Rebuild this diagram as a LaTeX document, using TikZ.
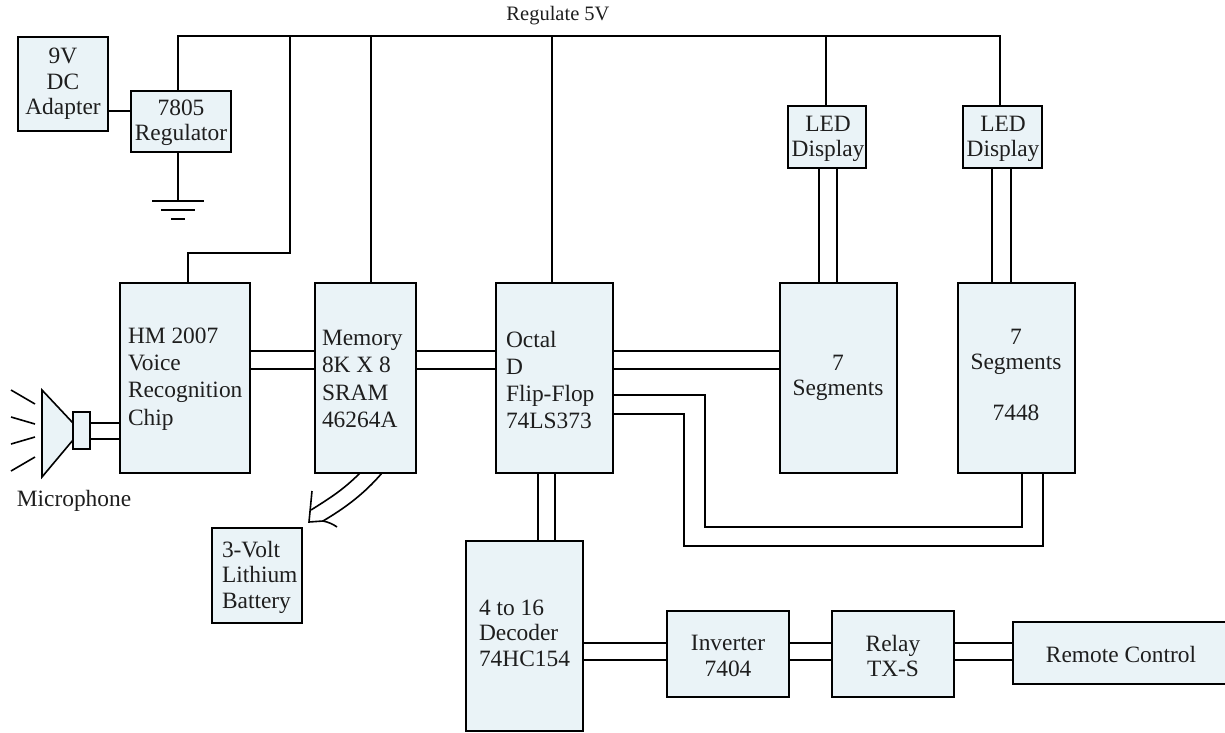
\documentclass[tikz,border=0pt]{standalone}
\usepackage{fontspec}
\setmainfont{Liberation Serif}
\begin{document}
\begin{tikzpicture}[x=1pt,y=-1pt,line join=miter,
  every node/.style={inner sep=0pt,outer sep=0pt},
  blockbox/.style={draw=black,fill=boxfill,line width=1.6pt},
  wire/.style={draw=black,line width=1.6pt},
  txt/.style={text=txtcol,font=\fontsize{23.4}{25.4}\selectfont,align=center},
  txtw/.style={text=txtcol,font=\fontsize{23.4}{27.2}\selectfont,align=left}]
\definecolor{boxfill}{HTML}{EAF3F7}
\definecolor{txtcol}{HTML}{1E1E1E}
\useasboundingbox (0,0) rectangle (1225,732);
\newcommand{\bx}[5]{\path[blockbox] (#2,#3) rectangle (#4,#5);
  \coordinate (#1nw) at (#2,#3); \coordinate (#1se) at (#4,#5);
  \node[minimum width=#4pt-#2pt,minimum height=#5pt-#3pt] (#1) at ({(#2+#4)/2},{(#3+#5)/2}) {};}
% blocks
\bx{adapter}{18}{37}{108}{131}
\bx{reg}{131}{91}{231}{152}
\bx{hm}{120}{283}{250}{473}
\bx{mem}{315}{283}{416}{473}
\bx{oct}{496}{283}{613}{473}
\bx{segA}{780}{283}{897}{473}
\bx{segB}{958}{283}{1075}{473}
\bx{ledA}{788}{106}{866}{168}
\bx{ledB}{963}{106}{1042}{168}
\bx{bat}{212}{528}{302}{623}
\bx{dec}{466}{541}{583}{731}
\bx{inv}{667}{611}{789}{697}
\bx{rel}{832}{611}{954}{697}
\bx{rem}{1013}{622}{1226}{684}
% power rail
\coordinate (railL) at (178,36);
\coordinate (railR) at (1000,36);
\draw[wire] (reg.north -| railL) -- (railL) -- (railR) -- (railR |- ledB.north);
\draw[wire] (826,36) -- (826,106);
\draw[wire] (290,36) -- (290,253) -- (188,253) -- (188,283);
\draw[wire] (371,36) -- (371,283);
\draw[wire] (552,36) -- (552,283);
% adapter, ground
\draw[wire] (adapter.east |- 0,111) -- (reg.west |- 0,111);
\coordinate (gnd) at (178,201);
\draw[wire] (reg.south -| gnd) -- (gnd);
\draw[wire] (152,201) -- (204,201);
\draw[wire] (161,210) -- (195,210);
\draw[wire] (171,219) -- (185,219);
% double buses
\foreach \yy in {351,369}{
  \draw[wire] (hm.east |- 0,\yy) -- (mem.west |- 0,\yy);
  \draw[wire] (mem.east |- 0,\yy) -- (oct.west |- 0,\yy);
  \draw[wire] (oct.east |- 0,\yy) -- (segA.west |- 0,\yy);
}
\foreach \xx in {819,837}{\draw[wire] (\xx,168) -- (\xx,283);}
\foreach \xx in {992,1011}{\draw[wire] (\xx,168) -- (\xx,283);}
\foreach \xx in {538,555}{\draw[wire] (\xx,473) -- (\xx,541);}
\foreach \yy in {643,660}{
  \draw[wire] (dec.east |- 0,\yy) -- (inv.west |- 0,\yy);
  \draw[wire] (inv.east |- 0,\yy) -- (rel.west |- 0,\yy);
  \draw[wire] (rel.east |- 0,\yy) -- (rem.west |- 0,\yy);
}
\draw[wire] (oct.east |- 0,395) -- (705,395) -- (705,527) -- (1022,527) -- (1022,473);
\draw[wire] (oct.east |- 0,414) -- (684,414) -- (684,546) -- (1043,546) -- (1043,473);
% memory to battery arrow
\draw[wire] (360,473) .. controls (343,490) and (330,498) .. (311,510);
\draw[wire] (382,473) .. controls (364,494) and (345,508) .. (323,521);
\draw[wire] (312,491) -- (309,522) -- (323,521) .. controls (328,522) and (333,524) .. (337,527);
% microphone
\path[blockbox] (42,390) -- (73,423) -- (73,440) -- (42,477) -- cycle;
\path[blockbox] (73,412) rectangle (90,449);
\draw[wire] (90,423) -- (120,423);
\draw[wire] (90,439) -- (120,439);
\draw[wire] (11,390) -- (35,404);
\draw[wire] (11,417) -- (35,424);
\draw[wire] (11,444) -- (35,437);
\draw[wire] (11,471) -- (35,457);
% texts
\node[txt,font=\fontsize{20.5}{25}\selectfont] (t0) at (558,16) {Regulate 5V};
\node[txt] (t1) at (63,84) {9V\\DC\\Adapter};
\node[txt] (t2) at (181,123) {7805\\Regulator};
\node[txt] (t3) at (828,139) {LED\\Display};
\node[txt] (t4) at (1003,139) {LED\\Display};
\node[txtw,anchor=west] (t5) at (128,379) {HM 2007\\Voice\\Recognition\\Chip};
\node[txtw,anchor=west] (t6) at (322,379) {Memory\\8K X 8\\SRAM\\46264A};
\node[txtw,anchor=west] (t7) at (506,380) {Octal\\D\\Flip-Flop\\74LS373};
\node[txt] (t8) at (838,378) {7\\Segments};
\node[txt] (t9) at (1016,375) {7\\Segments\\[26pt]7448};
\node[txt,anchor=west,align=left] (t10) at (479,633) {4 to 16\\Decoder\\74HC154};
\node[txt] (t11) at (728,656) {Inverter\\7404};
\node[txt] (t12) at (893,656) {Relay\\TX-S};
\node[txt] (t13) at (1121,654) {Remote Control};
\node[txt,anchor=west,align=left] (t14) at (222,577) {3-Volt\\Lithium\\Battery};
\node[txt] (t15) at (74,501) {Microphone};
\end{tikzpicture}
\end{document}
